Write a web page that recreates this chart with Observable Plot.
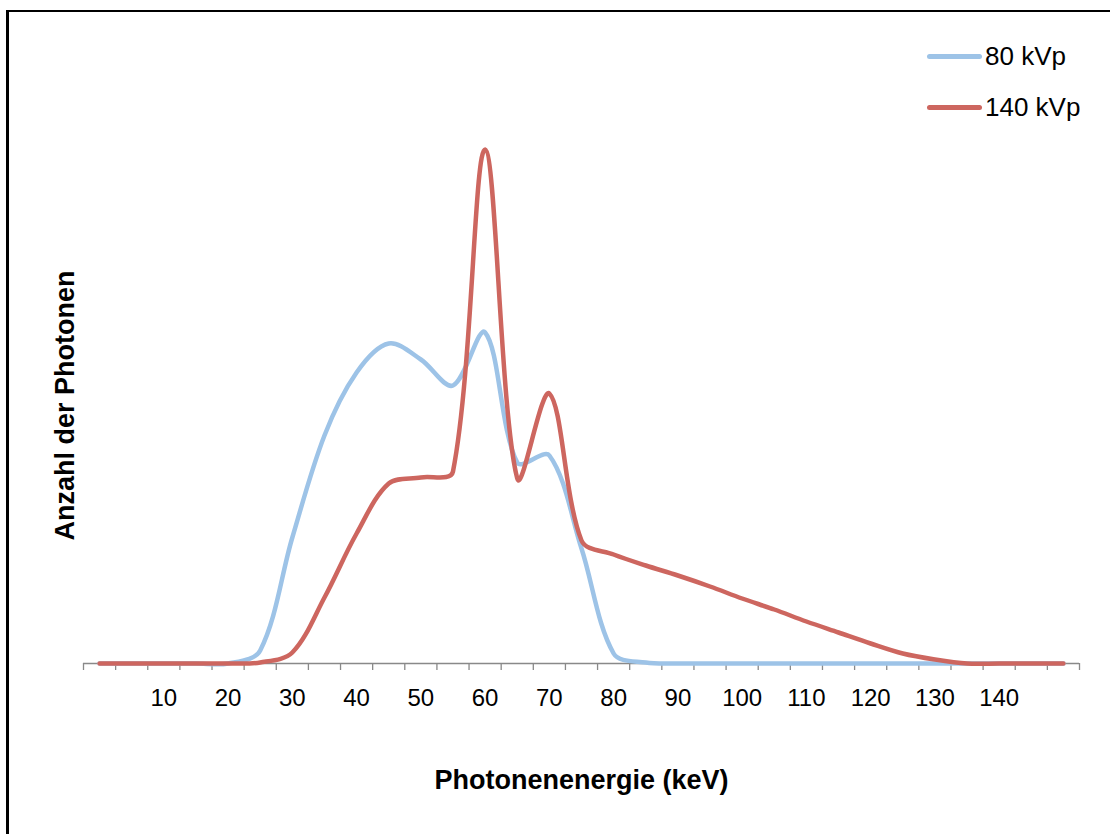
<!DOCTYPE html>
<html><head><meta charset="utf-8">
<script src="https://cdn.jsdelivr.net/npm/d3@7"></script>
<script src="https://cdn.jsdelivr.net/npm/@observablehq/plot@0.6"></script>
<style>
html,body{margin:0;padding:0;background:#fff;}
#wrap{position:relative;width:1110px;height:834px;overflow:hidden;font-family:Arial,"Liberation Sans",sans-serif;}
#frame{position:absolute;left:6px;top:10px;width:1200px;height:900px;border-left:3px solid #000;border-top:2px solid #000;pointer-events:none;}
#chart{position:absolute;left:0;top:0;}
#legend{position:absolute;left:927px;top:0;}
.item{position:absolute;left:0;display:flex;align-items:center;white-space:nowrap;font-size:26px;color:#000;height:30px;}
.swatch{width:55px;height:5px;border-radius:3px;margin-right:3px;}
</style></head><body><div id="wrap"><div id="chart"></div><div id="frame"></div><div id="legend"></div></div>
<script>
const energy    = [0,5,10,15,20,25,30,35,40,45,50,55,60,65,70,75,80,85,90,95,100,105,110,115,120,125,130,135,140,145,150];
const counts80  = [0,0,0,0,0,13,126,228,291,320,304,278,331,201,208,115,10,1,0,0,0,0,0,0,0,0,0,0,0,0,0];
const counts140 = [0,0,0,0,0,1,11,66,130,180,186,192,514,185,270,123,109,98,88,77,65,54,42,31,20,10,4,0,0,0,0];
const seriesNames  = ["80 kVp","140 kVp"];
const seriesColors = ["#9DC3E7","#CD665F"];
const tickLabels = [10,20,30,40,50,60,70,80,90,100,110,120,130,140];
const xTitle = "Photonenenergie (keV)";
const yTitle = "Anzahl der Photonen";

const seriesValues = [counts80, counts140];
const data = [];
seriesNames.forEach((s, i) => energy.forEach((e, j) => data.push({series: s, energy: e, count: seriesValues[i][j]})));
const step = energy[1] - energy[0];
const boundaries = d3.range(energy[0] - step/2, energy[energy.length-1] + step, step);

// Spreadsheet-style smoothed line: cubic Bezier, tangents weighted by chord lengths
function smoothCurve(context) {
  return {
    lineStart() { this.pts = []; },
    point(x, y) { this.pts.push([+x, +y]); },
    lineEnd() {
      const p = this.pts, n = p.length;
      if (!n) return;
      context.moveTo(p[0][0], p[0][1]);
      const d = (a, b) => Math.hypot(b[0] - a[0], b[1] - a[1]);
      for (let i = 0; i < n - 1; i++) {
        const p0 = p[i - 1] || p[i], p1 = p[i], p2 = p[i + 1], p3 = p[i + 2] || p[i + 1];
        const d01 = d(p0, p1), d12 = d(p1, p2), d23 = d(p2, p3);
        const w1 = (d01 + d12) ? d12 / (d01 + d12) : 0;
        const w2 = (d12 + d23) ? d12 / (d12 + d23) : 0;
        const t = 1 / 3;
        const c1 = [p1[0] + (p2[0] - p0[0]) * w1 * t, p1[1] + (p2[1] - p0[1]) * w1 * t];
        const c2 = [p2[0] - (p3[0] - p1[0]) * w2 * t, p2[1] - (p3[1] - p1[1]) * w2 * t];
        context.bezierCurveTo(c1[0], c1[1], c2[0], c2[1], p2[0], p2[1]);
      }
    },
    areaStart() {}, areaEnd() {}
  };
}

const font = 'Arial, "Liberation Sans", sans-serif';
const chart = Plot.plot({
  width: 1110, height: 834,
  marginLeft: 83, marginRight: 31, marginTop: 113, marginBottom: 171,
  x: {domain: [energy[0] - step/2, energy[energy.length-1] + step/2]},
  y: {domain: [0, 550], axis: null},
  color: {domain: seriesNames, range: seriesColors},
  style: {fontFamily: font, background: "transparent", overflow: "visible"},
  marks: [
    Plot.ruleY([0], {stroke: "#898989", strokeWidth: 1.3}),
    Plot.axisX({ticks: boundaries, tickSize: 7, tickFormat: () => "", stroke: "#898989", strokeWidth: 1.3, label: null}),
    Plot.axisX({ticks: tickLabels, tickSize: 0, tickPadding: 25, fontSize: 24, fill: "#000", label: null, tickFormat: d => String(d)}),
    Plot.line(data, {x: "energy", y: "count", z: "series", stroke: "series", strokeWidth: 4.5,
      curve: smoothCurve, strokeLinecap: "round", strokeLinejoin: "round"}),
    Plot.text([xTitle], {frameAnchor: "bottom", dy: 125, fontSize: 27, fontWeight: "bold", fill: "#000"}),
    Plot.text([yTitle], {frameAnchor: "left", textAnchor: "middle", rotate: -90, dx: -18, dy: 17, fontSize: 27, fontWeight: "bold", fill: "#000"})
  ]
});
document.getElementById("chart").appendChild(chart);

const legend = document.getElementById("legend");
seriesNames.forEach((s, i) => {
  const item = document.createElement("div");
  item.className = "item";
  item.style.top = (41 + i * 51) + "px";
  const sw = document.createElement("div");
  sw.className = "swatch";
  sw.style.background = seriesColors[i];
  const label = document.createElement("span");
  label.textContent = s;
  item.appendChild(sw); item.appendChild(label);
  legend.appendChild(item);
});
</script></body></html>
